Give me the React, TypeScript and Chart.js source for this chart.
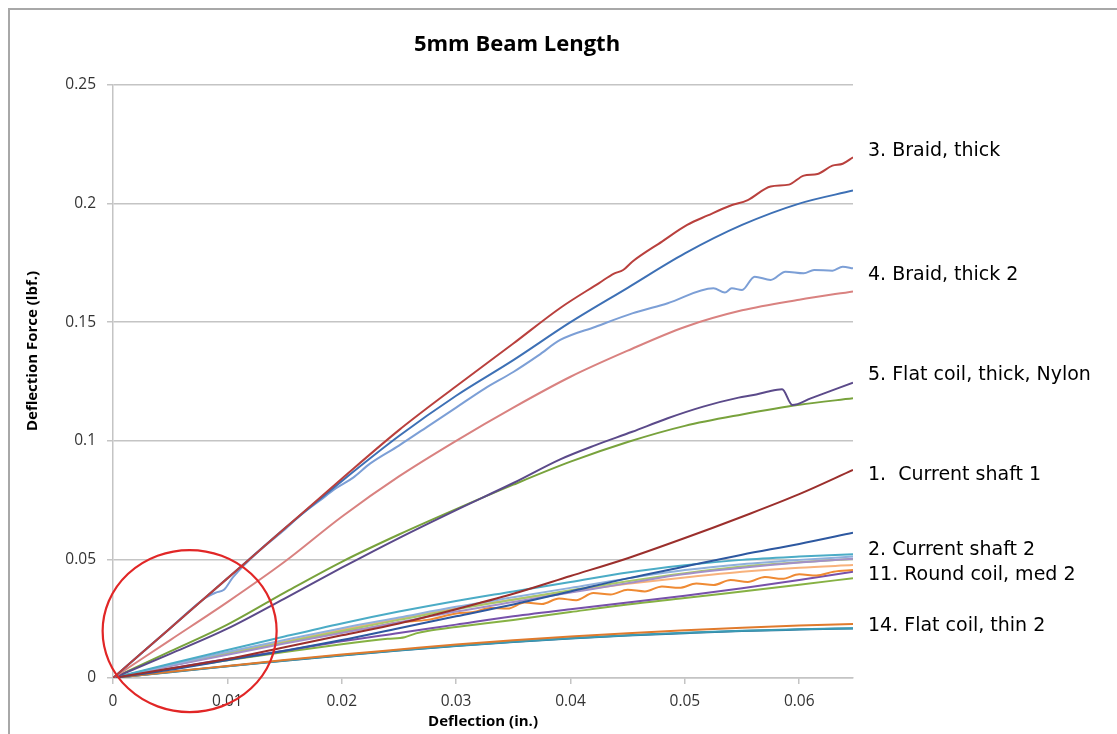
import React, { useEffect, useRef } from 'react';
import { Chart, registerables } from 'chart.js';

Chart.register(...registerables);

// ---------- text ----------
const TITLE = '5mm Beam Length';
const X_TITLE = 'Deflection (in.)';
const Y_TITLE = 'Deflection Force (lbf.)';

// ---------- axes ----------
const X_MAX = 0.0647;
const Y_MAX = 0.25;
const X_TICKS = [0, 0.01, 0.02, 0.03, 0.04, 0.05, 0.06];
const X_TICK_LABELS = ['0', '0.01', '0.02', '0.03', '0.04', '0.05', '0.06'];
const Y_TICKS = [0, 0.05, 0.1, 0.15, 0.2, 0.25];
const Y_TICK_LABELS = ['0', '0.05', '0.1', '0.15', '0.2', '0.25'];

// ---------- right-hand series labels ----------
const SIDE_LABELS = [
  '3. Braid, thick',
  '4. Braid, thick 2',
  '5. Flat coil, thick, Nylon',
  '1.  Current shaft 1',
  '2. Current shaft 2',
  '11. Round coil, med 2',
  '14. Flat coil, thin 2',
];
const SIDE_LABEL_LEVELS = [0.2222, 0.1700, 0.1277, 0.0856, 0.0540, 0.0434, 0.0219];

// ---------- data (deflection in., force lbf.) ----------
const XS = [0, 0.005, 0.01, 0.015, 0.02, 0.025, 0.03, 0.035, 0.04, 0.045, 0.05, 0.055, 0.06, 0.0647];

const BRAID_THICK_X = [0, 0.005, 0.01, 0.015, 0.02, 0.025, 0.03, 0.035, 0.0391, 0.0425, 0.0438, 0.0446, 0.0454, 0.048, 0.0502, 0.052, 0.0539, 0.0555, 0.0575, 0.0591, 0.0604, 0.0616, 0.0629, 0.0638, 0.0647];
const BRAID_THICK_Y = [0, 0.021, 0.042, 0.063, 0.084, 0.1045, 0.123, 0.141, 0.156, 0.1665, 0.1705, 0.172, 0.1755, 0.184, 0.191, 0.195, 0.199, 0.2015, 0.2072, 0.208, 0.2118, 0.2125, 0.216, 0.2168, 0.2195];

const BRAID_THICK_B_Y = [0, 0.021, 0.042, 0.063, 0.083, 0.102, 0.119, 0.134, 0.150, 0.1645, 0.179, 0.191, 0.200, 0.2055];

const BRAID_THICK2_X = [0, 0.005, 0.008, 0.009, 0.0097, 0.0105, 0.013, 0.015, 0.0165, 0.018, 0.0195, 0.021, 0.0225, 0.025, 0.0275, 0.03, 0.0325, 0.035, 0.0372, 0.0391, 0.0422, 0.0454, 0.0485, 0.0525, 0.0535, 0.0541, 0.055, 0.0561, 0.0575, 0.0588, 0.0604, 0.0613, 0.0629, 0.0638, 0.0647];
const BRAID_THICK2_Y = [0, 0.021, 0.0335, 0.036, 0.0372, 0.0425, 0.0545, 0.0625, 0.069, 0.0745, 0.080, 0.0845, 0.0905, 0.098, 0.106, 0.114, 0.122, 0.129, 0.136, 0.1425, 0.1481, 0.1537, 0.158, 0.1643, 0.1625, 0.1643, 0.1636, 0.1692, 0.1678, 0.1713, 0.1706, 0.172, 0.1717, 0.1734, 0.1727];

const BRAID_THICK2_B_Y = [0, 0.016, 0.032, 0.049, 0.068, 0.085, 0.100, 0.114, 0.127, 0.138, 0.148, 0.155, 0.1595, 0.163];

const FLAT_THICK_NYLON_X = [0, 0.005, 0.01, 0.015, 0.02, 0.025, 0.03, 0.035, 0.0391, 0.0422, 0.0454, 0.0485, 0.0516, 0.0547, 0.056, 0.0572, 0.0585, 0.0594, 0.061, 0.0647];
const FLAT_THICK_NYLON_Y = [0, 0.0102, 0.0208, 0.0335, 0.0465, 0.059, 0.0708, 0.0822, 0.0922, 0.0982, 0.1038, 0.1095, 0.1144, 0.1182, 0.1193, 0.1207, 0.1217, 0.1151, 0.1179, 0.1245];

const FLAT_THICK_NYLON_B_Y = [0, 0.0112, 0.0225, 0.036, 0.049, 0.0605, 0.0712, 0.0815, 0.0912, 0.0995, 0.1063, 0.1111, 0.1152, 0.1179];

const CURRENT_SHAFT1_Y = [0, 0.004, 0.008, 0.013, 0.018, 0.023, 0.029, 0.0355, 0.043, 0.0505, 0.059, 0.068, 0.0775, 0.0877];
const CURRENT_SHAFT2_Y = [0, 0.0035, 0.0075, 0.0115, 0.016, 0.021, 0.026, 0.031, 0.0365, 0.042, 0.047, 0.052, 0.0565, 0.0612];

const ROUND_COIL_A_Y = [0, 0.006, 0.0118, 0.0175, 0.023, 0.028, 0.0325, 0.0365, 0.0405, 0.0445, 0.0475, 0.0498, 0.0512, 0.0522];
const ROUND_COIL_B_Y = [0, 0.0055, 0.011, 0.016, 0.021, 0.0255, 0.030, 0.034, 0.038, 0.042, 0.0455, 0.048, 0.0498, 0.0512];
const ROUND_COIL_C_Y = [0, 0.005, 0.0098, 0.0145, 0.019, 0.0235, 0.028, 0.032, 0.036, 0.040, 0.0438, 0.0465, 0.0487, 0.0503];
const ROUND_COIL_D_Y = [0, 0.0052, 0.0102, 0.015, 0.0198, 0.0245, 0.029, 0.033, 0.037, 0.0408, 0.0442, 0.047, 0.0488, 0.0502];
const ROUND_COIL_MED2_Y = [0, 0.0052, 0.0103, 0.0153, 0.0203, 0.025, 0.0293, 0.0331, 0.0366, 0.0397, 0.0424, 0.0448, 0.0465, 0.0476];

const ROUND_COIL_MED2_B_X = [0, 0.005, 0.01, 0.015, 0.02, 0.0225, 0.025, 0.0275, 0.03, 0.0315, 0.033, 0.0345, 0.036, 0.0375, 0.039, 0.0405, 0.042, 0.0435, 0.045, 0.0465, 0.048, 0.0495, 0.051, 0.0525, 0.054, 0.0555, 0.057, 0.0585, 0.06, 0.0615, 0.063, 0.0647];
const ROUND_COIL_MED2_B_Y = [0, 0.0055, 0.0105, 0.0152, 0.0195, 0.0212, 0.0235, 0.0245, 0.0272, 0.0278, 0.0295, 0.0293, 0.0318, 0.0312, 0.0335, 0.0328, 0.0358, 0.0352, 0.0372, 0.0365, 0.0386, 0.038, 0.0398, 0.0392, 0.0413, 0.0405, 0.0426, 0.0418, 0.0437, 0.0432, 0.0448, 0.0455];

const FLAT_MED_A_Y = [0, 0.004, 0.008, 0.0115, 0.0155, 0.019, 0.0225, 0.026, 0.029, 0.0318, 0.0347, 0.0378, 0.0413, 0.0448];
const FLAT_MED_B_X = [0, 0.005, 0.01, 0.015, 0.02, 0.024, 0.0255, 0.0265, 0.0275, 0.03, 0.035, 0.04, 0.045, 0.05, 0.055, 0.06, 0.0647];
const FLAT_MED_B_Y = [0, 0.0038, 0.0075, 0.011, 0.0142, 0.0165, 0.0172, 0.0188, 0.0198, 0.0215, 0.0245, 0.0278, 0.031, 0.0337, 0.0365, 0.0393, 0.0421];

const FLAT_THIN2_Y = [0, 0.0026, 0.0051, 0.0076, 0.0099, 0.012, 0.0141, 0.0159, 0.0175, 0.0189, 0.0201, 0.0212, 0.0221, 0.0228];
const FLAT_THIN_A_Y = [0, 0.0025, 0.005, 0.0074, 0.0096, 0.0117, 0.0136, 0.0153, 0.0168, 0.018, 0.0191, 0.0199, 0.0205, 0.021];
const FLAT_THIN_B_Y = [0, 0.0024, 0.0049, 0.0073, 0.0095, 0.0116, 0.0135, 0.0152, 0.0167, 0.0179, 0.0189, 0.0198, 0.0204, 0.0209];

const SERIES = [
  { name: 'Braid, thick', xs: BRAID_THICK_X, ys: BRAID_THICK_Y },
  { name: 'Braid, thick (b)', xs: XS, ys: BRAID_THICK_B_Y },
  { name: 'Braid, thick 2', xs: BRAID_THICK2_X, ys: BRAID_THICK2_Y },
  { name: 'Braid, thick 2 (b)', xs: XS, ys: BRAID_THICK2_B_Y },
  { name: 'Flat coil, thick, Nylon', xs: FLAT_THICK_NYLON_X, ys: FLAT_THICK_NYLON_Y },
  { name: 'Flat coil, thick, Nylon (b)', xs: XS, ys: FLAT_THICK_NYLON_B_Y },
  { name: 'Current shaft 1', xs: XS, ys: CURRENT_SHAFT1_Y },
  { name: 'Current shaft 2', xs: XS, ys: CURRENT_SHAFT2_Y },
  { name: 'Round coil (a)', xs: XS, ys: ROUND_COIL_A_Y },
  { name: 'Round coil (b)', xs: XS, ys: ROUND_COIL_B_Y },
  { name: 'Round coil (c)', xs: XS, ys: ROUND_COIL_C_Y },
  { name: 'Round coil (d)', xs: XS, ys: ROUND_COIL_D_Y },
  { name: 'Round coil, med 2', xs: XS, ys: ROUND_COIL_MED2_Y },
  { name: 'Round coil, med 2 (b)', xs: ROUND_COIL_MED2_B_X, ys: ROUND_COIL_MED2_B_Y },
  { name: 'Flat coil, med (a)', xs: XS, ys: FLAT_MED_A_Y },
  { name: 'Flat coil, med (b)', xs: FLAT_MED_B_X, ys: FLAT_MED_B_Y },
  { name: 'Flat coil, thin 2', xs: XS, ys: FLAT_THIN2_Y },
  { name: 'Flat coil, thin (a)', xs: XS, ys: FLAT_THIN_A_Y },
  { name: 'Flat coil, thin (b)', xs: XS, ys: FLAT_THIN_B_Y },
];

const COLORS = [
  '#b9403d', '#3d70b5', '#7c9fd6', '#d98280', '#5b4a8a', '#78a23c',
  '#9b2f2c', '#2d58a0', '#4bacc6', '#8fb0dc', '#a390c8', '#a8c86a',
  '#f8b27c', '#ef8a33', '#7751aa', '#86b143', '#e07a2c', '#3a9ab4', '#2a6f97',
];

const annotations = {
  id: 'annotations',
  afterDraw(chart: any) {
    const { ctx, scales } = chart;
    const xs = scales.x;
    const ys = scales.y;
    ctx.save();
    ctx.fillStyle = '#000';
    ctx.textBaseline = 'middle';

    ctx.font = 'bold 22px "Open Sans"';
    ctx.textAlign = 'center';
    ctx.fillText(TITLE, 517, 45);

    ctx.font = 'bold 15px "Open Sans"';
    ctx.fillText(X_TITLE, (xs.left + xs.right) / 2, 722);
    ctx.save();
    ctx.translate(33, 351);
    ctx.rotate(-Math.PI / 2);
    ctx.fillText(Y_TITLE, 0, 0);
    ctx.restore();

    ctx.font = '19px "DejaVu Sans"';
    ctx.textAlign = 'left';
    SIDE_LABELS.forEach((t, i) => {
      ctx.fillText(t, xs.right + 15, ys.getPixelForValue(SIDE_LABEL_LEVELS[i]));
    });

    ctx.beginPath();
    ctx.ellipse(xs.getPixelForValue(0.0067), ys.getPixelForValue(0.0198), 87, 81, 0, 0, Math.PI * 2);
    ctx.strokeStyle = '#e12626';
    ctx.lineWidth = 2.2;
    ctx.stroke();
    ctx.restore();
  },
};

export default function App() {
  const ref = useRef<HTMLCanvasElement | null>(null);
  useEffect(() => {
    if (!ref.current) return;
    const chart = new Chart(ref.current, {
      type: 'line',
      data: {
        datasets: SERIES.map((s, i) => ({
          label: s.name,
          data: s.xs.map((x, j) => ({ x, y: s.ys[j] })),
          borderColor: COLORS[i],
          backgroundColor: COLORS[i],
          borderWidth: 2,
          pointRadius: 0,
          cubicInterpolationMode: 'monotone' as const,
          fill: false,
        })),
      },
      options: {
        animation: false,
        responsive: false,
        events: [],
        layout: { padding: { left: 0, right: 264, top: 85, bottom: 0 } },
        plugins: { legend: { display: false }, tooltip: { enabled: false }, title: { display: false } },
        scales: {
          x: {
            type: 'linear',
            min: 0,
            max: X_MAX,
            afterBuildTicks: (axis: any) => {
              axis.ticks = X_TICKS.map((v) => ({ value: v }));
            },
            afterFit: (axis: any) => {
              axis.height = 56;
            },
            ticks: {
              callback: (_v: any, i: number) => X_TICK_LABELS[i],
              font: { family: '"Open Sans"', size: 15.5 },
              color: '#333333',
              padding: 8,
              maxRotation: 0,
            },
            grid: { drawOnChartArea: false, drawTicks: true, tickLength: 6, color: '#c4c4c4', lineWidth: 1.5 },
            border: { display: true, color: '#c4c4c4', width: 1.5 },
          },
          y: {
            type: 'linear',
            min: 0,
            max: Y_MAX,
            afterBuildTicks: (axis: any) => {
              axis.ticks = Y_TICKS.map((v) => ({ value: v }));
            },
            afterFit: (axis: any) => {
              axis.width = 113;
            },
            ticks: {
              callback: (_v: any, i: number) => Y_TICK_LABELS[i],
              font: { family: '"Open Sans"', size: 15.5 },
              color: '#333333',
              padding: 11,
            },
            grid: { drawTicks: true, tickLength: 6, color: '#c4c4c4', lineWidth: 1.5 },
            border: { display: true, color: '#c4c4c4', width: 1.5 },
          },
        },
      },
      plugins: [annotations],
    });
    return () => chart.destroy();
  }, []);

  return (
    <div style={{ position: 'absolute', left: 0, top: 0, width: 1117, height: 734, overflow: 'hidden', background: '#fff' }}>
      <div
        style={{
          position: 'absolute',
          left: 8,
          top: 8,
          width: 1200,
          height: 800,
          borderLeft: '2px solid #a8a8a8',
          borderTop: '2px solid #a8a8a8',
        }}
      />
      <canvas ref={ref} width={1117} height={734} style={{ position: 'absolute', left: 0, top: 0 }} />
    </div>
  );
}
